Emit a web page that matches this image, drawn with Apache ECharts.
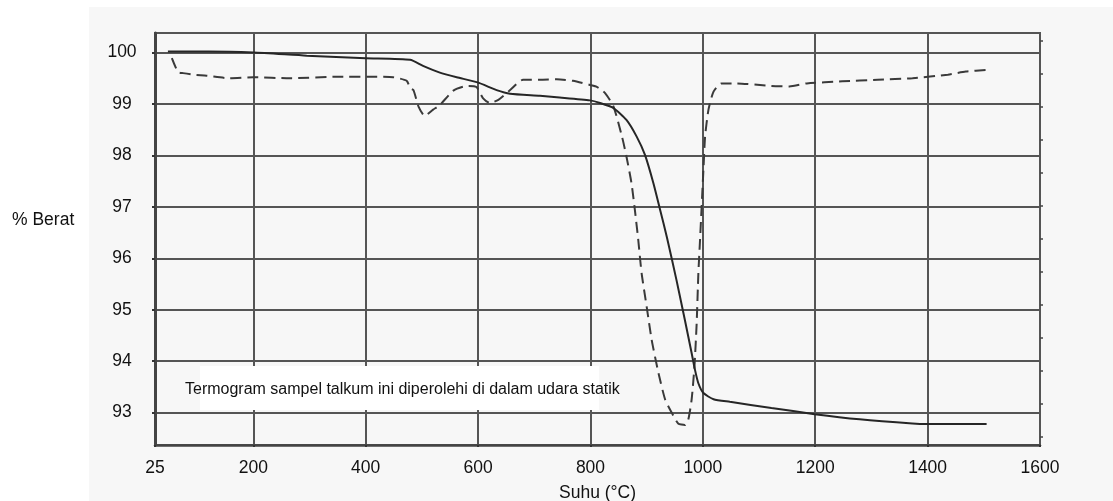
<!DOCTYPE html>
<html>
<head>
<meta charset="utf-8">
<script src="https://cdn.jsdelivr.net/npm/echarts@6/dist/echarts.min.js"></script>
<style>
  html, body { margin: 0; padding: 0; background: #fff; }
  #chart { width: 1113px; height: 501px; }
</style>
</head>
<body>
<div id="chart"></div>
<script>
var xTicks = [25, 200, 400, 600, 800, 1000, 1200, 1400, 1600];
var yTicks = [93, 94, 95, 96, 97, 98, 99, 100];
var rightTicks = [0.25, 1.25, 2.25, 3.25, 4.25, 5.25, 6.25, 7.25, 8.25, 9.25, 10.25, 11.25, 12.25];

// garis penuh
var solidTemp = [48, 120, 200, 295, 400, 479, 502, 532, 562, 599, 633, 657, 710, 740, 799, 817, 841, 864, 882, 897,
    912, 924, 936, 953, 968, 980, 986, 992, 1001, 1019, 1048, 1122, 1199, 1279, 1373, 1399, 1505];
var solidWeight = [100.02, 100.02, 100, 99.94, 99.89, 99.86, 99.74, 99.61, 99.52, 99.42, 99.27, 99.2, 99.16, 99.13, 99.07,
    99.02, 98.92, 98.69, 98.37, 98.01, 97.46, 96.94, 96.41, 95.58, 94.8, 94.16, 93.83, 93.57, 93.38, 93.26,
    93.21, 93.09, 92.97, 92.87, 92.79, 92.78, 92.78];

// garis putus-putus
var dashTemp = [55, 66, 75, 93, 117, 158, 200, 265, 354, 420, 449, 473, 479, 485, 494, 505, 520, 532, 556, 580,
    597, 609, 621, 636, 657, 680, 710, 740, 769, 799, 812, 826, 841, 856, 864, 873, 879, 885, 891, 900,
    909, 921, 933, 945, 956, 968, 974, 980, 985, 989, 992, 995, 1001, 1004, 1010, 1019, 1033, 1060, 1122, 1154,
    1185, 1248, 1311, 1373, 1436, 1468, 1505];
var dashWeight = [99.89, 99.62, 99.6, 99.57, 99.55, 99.5, 99.52, 99.5, 99.53, 99.53, 99.52, 99.45, 99.31, 99.27, 98.95,
    98.77, 98.89, 98.98, 99.26, 99.35, 99.33, 99.11, 99.02, 99.08, 99.27, 99.47, 99.47, 99.48, 99.45, 99.37,
    99.33, 99.21, 98.95, 98.37, 97.98, 97.46, 96.94, 96.36, 95.71, 95.06, 94.41, 93.77, 93.25, 92.99, 92.79,
    92.76, 92.86, 93.25, 93.89, 94.74, 95.71, 96.36, 97.72, 98.37, 98.89, 99.24, 99.4, 99.4, 99.35, 99.34,
    99.4, 99.44, 99.47, 99.5, 99.57, 99.63, 99.66];

function pairs(xs, ys) {
    return xs.map(function (x, i) { return [x, ys[i]]; });
}
function plain(v) { return String(v); }

var font = 'Liberation Sans, Arial, sans-serif';
var gridColor = '#555';

var chart = echarts.init(document.getElementById('chart'));
chart.setOption({
    animation: false,
    backgroundColor: '#fff',
    grid: {
        left: 155, right: 73, top: 33, bottom: 56, outerBoundsMode: 'none', containLabel: false,
        show: true, borderColor: gridColor, borderWidth: 2, backgroundColor: 'transparent'
    },
    graphic: [
        { type: 'rect', z: -100, shape: { x: 89, y: 7, width: 1024, height: 494 }, style: { fill: '#f7f7f7' } },
        { type: 'rect', z: 100, shape: { x: 200, y: 366, width: 399, height: 44 }, style: { fill: '#ffffff' } },
        {
            type: 'text', z: 101, left: 185, top: 382,
            style: { text: 'Termogram sampel talkum ini diperolehi di dalam udara statik', font: '16px ' + font, fill: '#111' }
        },
        {
            type: 'text', z: 101, left: 12, top: 211,
            style: { text: '% Berat', font: '17.5px ' + font, fill: '#111' }
        }
    ],
    xAxis: {
        type: 'value', min: 25, max: 1600,
        name: 'Suhu (°C)', nameLocation: 'middle', nameGap: 39,
        nameTextStyle: { fontSize: 17.5, fontFamily: font, color: '#111' },
        axisLine: { lineStyle: { color: '#444', width: 2.5 } },
        axisTick: { show: true, length: 2, lineStyle: { color: '#333', width: 2 }, customValues: xTicks },
        axisLabel: { customValues: xTicks, formatter: plain, margin: 14, fontSize: 17.5, fontFamily: font, color: '#111' },
        splitLine: { show: true, lineStyle: { color: gridColor, width: 2 } }
    },
    yAxis: [{
        type: 'value', min: 92.37, max: 100.38,
        axisLine: { show: true, lineStyle: { color: '#444', width: 3 } },
        axisTick: { show: true, length: 3, lineStyle: { color: '#333', width: 2 }, customValues: yTicks },
        axisLabel: { customValues: yTicks, formatter: plain, margin: 33, align: 'center', fontSize: 17.5, fontFamily: font, color: '#111' },
        splitLine: { show: true, lineStyle: { color: gridColor, width: 2 } }
    }, {
        type: 'value', position: 'right', min: 0, max: 12.5,
        axisLine: { show: true, lineStyle: { color: '#555', width: 2 } },
        axisTick: { show: true, length: 3, lineStyle: { color: '#444', width: 1.5 }, customValues: rightTicks },
        axisLabel: { show: false },
        splitLine: { show: false }
    }],
    series: [{
        type: 'line', data: pairs(solidTemp, solidWeight), showSymbol: false, smooth: 0.2,
        lineStyle: { color: '#262626', width: 2 }, z: 5
    }, {
        type: 'line', data: pairs(dashTemp, dashWeight), showSymbol: false, smooth: 0.2,
        lineStyle: { color: '#3a3a3a', width: 2, type: [11, 6] }, z: 4
    }]
});
</script>
</body>
</html>
